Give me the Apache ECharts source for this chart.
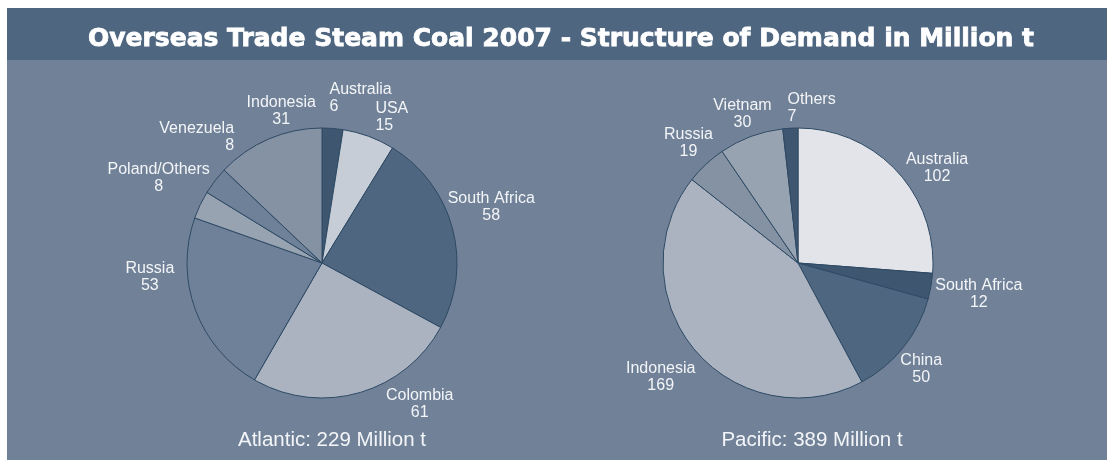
<!DOCTYPE html>
<html><head><meta charset="utf-8">
<script src="https://cdn.jsdelivr.net/npm/echarts@6/dist/echarts.min.js"></script>
<style>html,body{margin:0;padding:0;background:#fff;}#c{width:1107px;height:461px;}</style>
</head><body><div id="c"></div>
<script>
const atlanticNames = ['Australia','USA','South Africa','Colombia','Russia','Poland/Others','Venezuela','Indonesia'];
const atlanticValues = [6,15,58,61,53,8,8,31];
const pacificNames = ['Australia','South Africa','China','Indonesia','Russia','Vietnam','Others'];
const pacificValues = [102,12,50,169,19,30,7];
const titleText = 'Overseas Trade Steam Coal 2007 - Structure of Demand in Million t';
const atlanticCaption = 'Atlantic: 229 Million t';
const pacificCaption = 'Pacific: 389 Million t';

// styles
const atlanticColors = ['#3e5670','#c6cdd7','#4f6680','#abb3c0','#6f8198','#98a3b2','#6f8198','#8592a4'];
const pacificColors = ['#e2e4e9','#3e5670','#4f6680','#abb3c0','#8592a4','#98a3b2','#3e5670'];
// label text alignment (l/c/r) and small hand-placement nudges, as in the original chart
const atlanticLabelAlign = ['l','l','c','c','c','c','r','c'];
const atlanticLabelNudge = [[25,-7],[15,3],[-10,-15],[50,-11],[-16,-41],[11,-17],[17,-29],[29,-6]];
const pacificLabelAlign = ['c','c','c','c','c','c','l'];
const pacificLabelNudge = [[12,13],[-2,4],[-4,7],[-2,12],[4,-4],[4,0],[23,3]];

function mk(names, values, colors){
  return names.map((n,i)=>({name:n, value:values[i], itemStyle:{color:colors[i]}}));
}
const txt = {fontSize:16,color:'#f3f5f8',lineHeight:17,fontFamily:'Liberation Sans, Arial, sans-serif'};
function labelCfg(aligns){
  return {
    show:true, position:'outside',
    formatter:function(p){const k=aligns[p.dataIndex]||'c';return '{'+k+'|'+p.name+'}\n{'+k+'|'+p.value+'}';},
    rich:{c:Object.assign({align:'center'},txt),l:Object.assign({align:'left'},txt),r:Object.assign({align:'right'},txt)}
  };
}
// label box placed just outside the rim along the slice's mid direction (from the library's label line)
function outsideLayout(gap, nudges){
  return function(p){
    const pts = p.labelLinePoints;
    if(!pts || pts.length < 2) return {};
    const x0=pts[0][0], y0=pts[0][1], x1=pts[1][0], y1=pts[1][1];
    const L=Math.hypot(x1-x0,y1-y0)||1;
    const ux=(x1-x0)/L, uy=(y1-y0)/L;
    const W=p.labelRect.width, H=p.labelRect.height;
    const nd = nudges[p.dataIndex] || [0,0];
    return {x:x0+ux*gap+ux*W/2+nd[0], y:y0+uy*gap+uy*H/2+nd[1], align:'center', verticalAlign:'middle'};
  };
}
const chart = echarts.init(document.getElementById('c'));
const pieBase = {
  type:'pie',radius:135,startAngle:90,clockwise:true,avoidLabelOverlap:false,
  itemStyle:{borderColor:'#2e4a64',borderWidth:1},
  labelLine:{show:true,length:8,length2:0,lineStyle:{opacity:0}},
  emphasis:{disabled:true}
};
chart.setOption({
  backgroundColor:'#ffffff',
  animation:false,
  graphic:[
    {type:'rect',shape:{x:7,y:8,width:1100,height:52},style:{fill:'#4f6680'},z:-10},
    {type:'rect',shape:{x:7,y:60,width:1100,height:400},style:{fill:'#718298'},z:-10}
  ],
  title:[
    {text:titleText,left:561,top:27,padding:0,textAlign:'center',textStyle:{color:'#ffffff',fontSize:25,fontWeight:'bold',fontFamily:'DejaVu Sans, sans-serif',textBorderColor:'#ffffff',textBorderWidth:0.8}},
    {text:atlanticCaption,left:332,top:430,padding:0,textAlign:'center',textStyle:{color:'#f3f5f8',fontSize:20.5,fontWeight:'normal',fontFamily:'Liberation Sans, Arial, sans-serif'}},
    {text:pacificCaption,left:812,top:430,padding:0,textAlign:'center',textStyle:{color:'#f3f5f8',fontSize:20.5,fontWeight:'normal',fontFamily:'Liberation Sans, Arial, sans-serif'}}
  ],
  series:[
    Object.assign({}, pieBase, {center:[322,263], label:labelCfg(atlanticLabelAlign), labelLayout:outsideLayout(7, atlanticLabelNudge), data:mk(atlanticNames,atlanticValues,atlanticColors)}),
    Object.assign({}, pieBase, {center:[798,263], label:labelCfg(pacificLabelAlign), labelLayout:outsideLayout(7, pacificLabelNudge), data:mk(pacificNames,pacificValues,pacificColors)})
  ]
});
</script></body></html>
